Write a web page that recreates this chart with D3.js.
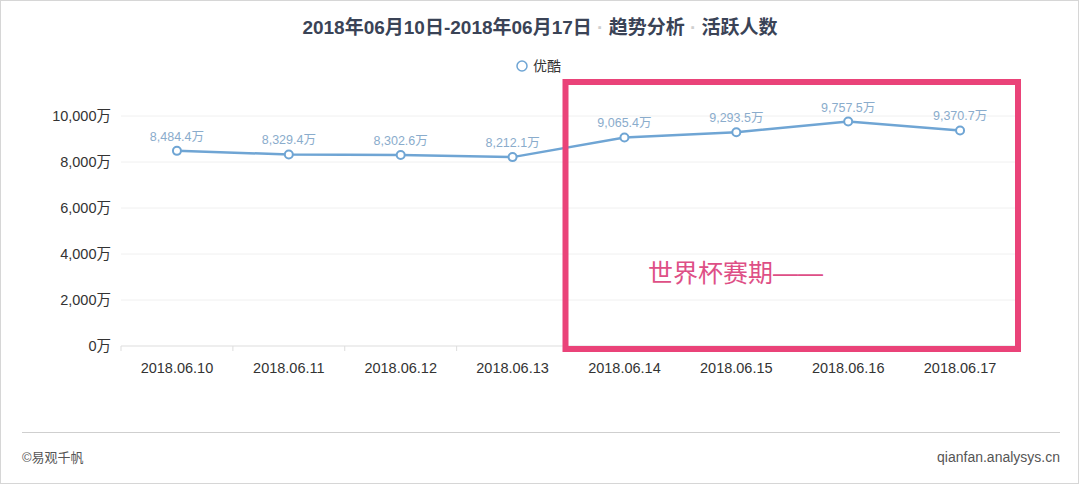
<!DOCTYPE html>
<html>
<head>
<meta charset="utf-8">
<script src="https://cdn.jsdelivr.net/npm/d3@7"></script>
<style>
  body { margin: 0; background: #fff; }
  svg { display: block; font-family: "Liberation Sans", "Noto Sans CJK SC", sans-serif; }
</style>
</head>
<body>
<svg width="1080" height="485"></svg>
<script>
// data
var dates = ["2018.06.10", "2018.06.11", "2018.06.12", "2018.06.13",
             "2018.06.14", "2018.06.15", "2018.06.16", "2018.06.17"];
var youku = [8484.4, 8329.4, 8302.6, 8212.1, 9065.4, 9293.5, 9757.5, 9370.7];
var yTicks = [0, 2000, 4000, 6000, 8000, 10000];
var seriesName = "优酷";
var cupStart = "2018.06.14"; // world cup period highlighted from here

var svg = d3.select("svg"),
    margin = {top: 116, right: 64, bottom: 139, left: 121},
    width = +svg.attr("width") - margin.left - margin.right,
    height = +svg.attr("height") - margin.top - margin.bottom;

// outer frame
svg.append("rect")
    .attr("x", 0.5).attr("y", 0.5)
    .attr("width", 1078).attr("height", 483)
    .attr("fill", "#fff")
    .attr("stroke", "#d6d6d6");

// title
var title = svg.append("text")
    .attr("x", 540).attr("y", 34)
    .attr("text-anchor", "middle")
    .style("font-size", "19px")
    .style("font-weight", "600")
    .attr("fill", "#3a4356");
title.append("tspan").text("2018年06月10日-2018年06月17日");
title.append("tspan").attr("fill", "#cfcfcf").text(" · ");
title.append("tspan").text("趋势分析");
title.append("tspan").attr("fill", "#cfcfcf").text(" · ");
title.append("tspan").text("活跃人数");

// legend
svg.append("circle")
    .attr("cx", 522).attr("cy", 66).attr("r", 5)
    .attr("fill", "#fff").attr("stroke", "#6fa5d4").attr("stroke-width", 1.5);
svg.append("text")
    .attr("x", 533).attr("y", 71)
    .style("font-size", "14px")
    .attr("fill", "#333")
    .text(seriesName);

var g = svg.append("g").attr("transform", "translate(" + margin.left + "," + margin.top + ")");

var x = d3.scaleBand().domain(dates).range([0, width]),
    y = d3.scaleLinear().domain([0, 10000]).range([height, 0]);

// grid
g.selectAll(".grid")
    .data(yTicks.slice(1))
    .enter().append("line")
    .attr("x1", 0).attr("x2", width)
    .attr("y1", function (d) { return y(d); })
    .attr("y2", function (d) { return y(d); })
    .attr("stroke", "#f0f0f0");

// y axis labels
g.selectAll(".ylab")
    .data(yTicks)
    .enter().append("text")
    .attr("x", -10)
    .attr("y", function (d) { return y(d); })
    .attr("dy", "0.35em")
    .attr("text-anchor", "end")
    .style("font-size", "14.5px")
    .attr("fill", "#333")
    .text(function (d) { return d3.format(",")(d) + "万"; });

// x axis
var xAxis = g.append("g")
    .attr("transform", "translate(0," + height + ")");
xAxis.append("line")
    .attr("x1", 0).attr("x2", width)
    .attr("stroke", "#ddd");
xAxis.selectAll(".tick")
    .data(dates.concat(["end"]))
    .enter().append("line")
    .attr("x1", function (d, i) { return i * x.step(); })
    .attr("x2", function (d, i) { return i * x.step(); })
    .attr("y1", 0).attr("y2", 5)
    .attr("stroke", "#ddd");
xAxis.selectAll(".xlab")
    .data(dates)
    .enter().append("text")
    .attr("x", function (d) { return x(d) + x.bandwidth() / 2; })
    .attr("y", 27)
    .attr("text-anchor", "middle")
    .style("font-size", "14.5px")
    .attr("fill", "#333")
    .text(function (d) { return d; });

var pts = dates.map(function (d, i) { return {date: d, value: youku[i]}; });

var line = d3.line()
    .x(function (d) { return x(d.date) + x.bandwidth() / 2; })
    .y(function (d) { return y(d.value); });

g.append("path")
    .datum(pts)
    .attr("d", line)
    .attr("fill", "none")
    .attr("stroke", "#6fa5d4")
    .attr("stroke-width", 2.5);

g.selectAll(".dot")
    .data(pts)
    .enter().append("circle")
    .attr("cx", function (d) { return x(d.date) + x.bandwidth() / 2; })
    .attr("cy", function (d) { return y(d.value); })
    .attr("r", 4)
    .attr("fill", "#fff")
    .attr("stroke", "#6fa5d4")
    .attr("stroke-width", 2);

g.selectAll(".vlab")
    .data(pts)
    .enter().append("text")
    .attr("x", function (d) { return x(d.date) + x.bandwidth() / 2; })
    .attr("y", function (d) { return y(d.value) - 10; })
    .attr("text-anchor", "middle")
    .style("font-size", "12.5px")
    .attr("fill", "#8aaccc")
    .text(function (d) { return d3.format(",.1f")(d.value) + "万"; });

// footer
svg.append("line")
    .attr("x1", 22).attr("x2", 1060)
    .attr("y1", 432.5).attr("y2", 432.5)
    .attr("stroke", "#cfcfcf");
svg.append("text")
    .attr("x", 22).attr("y", 462)
    .style("font-size", "13px")
    .attr("fill", "#555")
    .text("©易观千帆");
svg.append("text")
    .attr("x", 1060).attr("y", 462)
    .attr("text-anchor", "end")
    .style("font-size", "14px")
    .attr("fill", "#555")
    .text("qianfan.analysys.cn");

// world cup highlight box
var bx = margin.left + x(cupStart) - 3;
svg.append("rect")
    .attr("x", bx).attr("y", 82)
    .attr("width", 1018 - bx).attr("height", 267)
    .attr("fill", "none")
    .attr("stroke", "#ea4379")
    .attr("stroke-width", 6);
svg.append("text")
    .attr("x", 648).attr("y", 282)
    .style("font-size", "25px")
    .attr("fill", "#de4f86")
    .text("世界杯赛期——");
</script>
</body>
</html>
